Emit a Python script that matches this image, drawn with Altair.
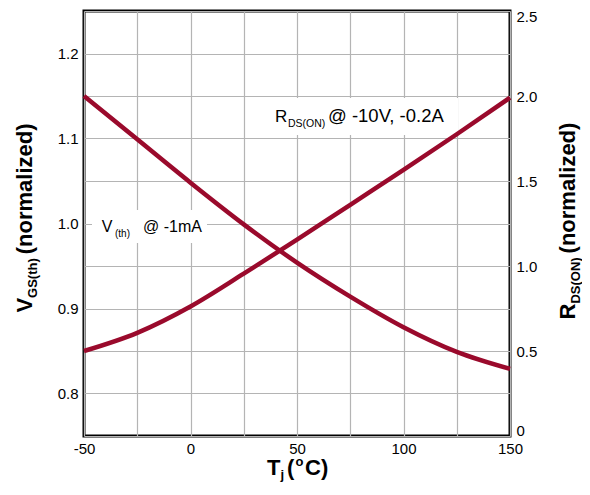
import altair as alt
import pandas as pd

# ---- data ----
T = [-50, -25, 0, 25, 50, 75, 100, 125, 150]
VTH = [1.15, 1.099, 1.048, 0.999, 0.954, 0.914, 0.878, 0.849, 0.829]
RDS = [0.50, 0.607, 0.762, 0.955, 1.155, 1.36, 1.565, 1.775, 1.99]

X_TICKS = [-50, -25, 0, 25, 50, 75, 100, 125, 150]
Y_LEFT_TICKS = [0.75, 0.8, 0.85, 0.9, 0.95, 1.0, 1.05, 1.1, 1.15, 1.2, 1.25]
Y_RIGHT_TICKS = [0, 0.5, 1.0, 1.5, 2.0, 2.5]

df = pd.DataFrame({"T": T, "vth": VTH, "rds": RDS})
one = pd.DataFrame({"a": [0]})

RED = "#9a0a2c"
FONT = "Liberation Sans"
GRID = "#b4b4b4"

W, H = 426, 425


def x_enc():
    return alt.X(
        "T:Q",
        scale=alt.Scale(domain=[-50, 150], nice=False, zero=False),
        axis=alt.Axis(
            values=X_TICKS,
            labelExpr="datum.value % 50 == 0 ? '' + datum.value : ''",
            title=None, ticks=False, domain=False, grid=True,
            gridColor=GRID, gridWidth=1.2, labelFontSize=15, labelFont=FONT,
            labelColor="black", labelPadding=5, labelFlush=False,
            labelOverlap=False,
        ),
    )


def txt(s, x, y, size, bold=False, angle=0):
    kw = dict(text=s, font=FONT, fontSize=size, align="left",
              baseline="alphabetic", color="black")
    if bold:
        kw["fontWeight"] = "bold"
    if angle:
        kw["angle"] = angle
    return alt.Chart(one).mark_text(**kw).encode(x=alt.value(x), y=alt.value(y))


def box(x1, x2, y1, y2):
    return alt.Chart(one).mark_rect(color="white").encode(
        x=alt.value(x1), x2=alt.value(x2), y=alt.value(y1), y2=alt.value(y2))


vth_line = alt.Chart(df).mark_line(
    color=RED, strokeWidth=4.5, interpolate="monotone"
).encode(
    x=x_enc(),
    y=alt.Y(
        "vth:Q",
        scale=alt.Scale(domain=[0.75, 1.25], nice=False, zero=False),
        axis=alt.Axis(
            orient="left", values=Y_LEFT_TICKS,
            labelExpr="abs(datum.value*10 - round(datum.value*10)) < 0.001 ? format(datum.value, '.1f') : ''",
            title=None, ticks=False, domain=False, grid=True,
            gridColor=GRID, gridWidth=1.2, labelFontSize=15, labelFont=FONT,
            labelColor="black", labelPadding=6, labelFlush=False,
            labelOverlap=False,
        ),
    ),
)

rds_line = alt.Chart(df).mark_line(
    color=RED, strokeWidth=4.5, interpolate="monotone"
).encode(
    x=x_enc(),
    y=alt.Y(
        "rds:Q",
        scale=alt.Scale(domain=[0, 2.5], nice=False, zero=False),
        axis=alt.Axis(
            orient="right", values=Y_RIGHT_TICKS,
            labelExpr="datum.value == 0 ? '0' : format(datum.value, '.1f')",
            title=None, ticks=False, domain=False, grid=False,
            labelFontSize=15, labelFont=FONT, labelColor="black",
            labelPadding=6, labelFlush=True, labelFlushOffset=2,
            labelOverlap=False,
        ),
    ),
)

F, S = 22, 13
# left axis title (rotated)
ly0 = 301.6
left_title = [
    txt("V", -52, ly0, F, True, 270),
    txt("GS(th)", -47, ly0 - 0.667 * F, S, True, 270),
    txt("(normalized)", -52, ly0 - 0.667 * F - 3.055 * S - 4, F, True, 270),
]
# right axis title (rotated)
ry0 = 308.5
right_title = [
    txt("R", 491, ry0, F, True, 270),
    txt("DS(ON)", 496, ry0 - 0.722 * F, S, True, 270),
    txt("(normalized)", 491, ry0 - 0.722 * F - 3.555 * S - 4, F, True, 270),
]
# x axis title
x_title = [
    txt("T", 183, 464, F, True),
    txt("j", 196.5, 468, S, True),
    txt("(", 203, 464, F, True),
    txt("o", 211.5, 455, S, True),
    txt("C)", 221, 464, F, True),
]
# curve annotations
vth_note = [
    box(8, 123, 199, 232),
    txt("V", 17.7, 220.7, 16),
    txt("(th)", 31, 226, 10),
    txt("@ -1mA", 59, 220.7, 16),
]
rds_note = [
    box(180, 374, 87, 124),
    txt("R", 191, 110.7, 17),
    txt("DS(ON)", 204, 115.7, 10.5),
    txt("@ -10V, -0.2A", 244, 110.7, 18.5),
]

left = alt.layer(vth_line, *vth_note, *rds_note, *left_title, *x_title)
chart = alt.layer(left, alt.layer(rds_line, *right_title)).resolve_scale(
    y="independent"
).properties(
    width=W, height=H,
    padding={"left": 76, "top": 3, "right": 72, "bottom": 51},
    autosize="none",
).configure_view(
    stroke="black", strokeWidth=3
)

chart.save("out.html", embed_options={"renderer": "svg", "actions": False})
